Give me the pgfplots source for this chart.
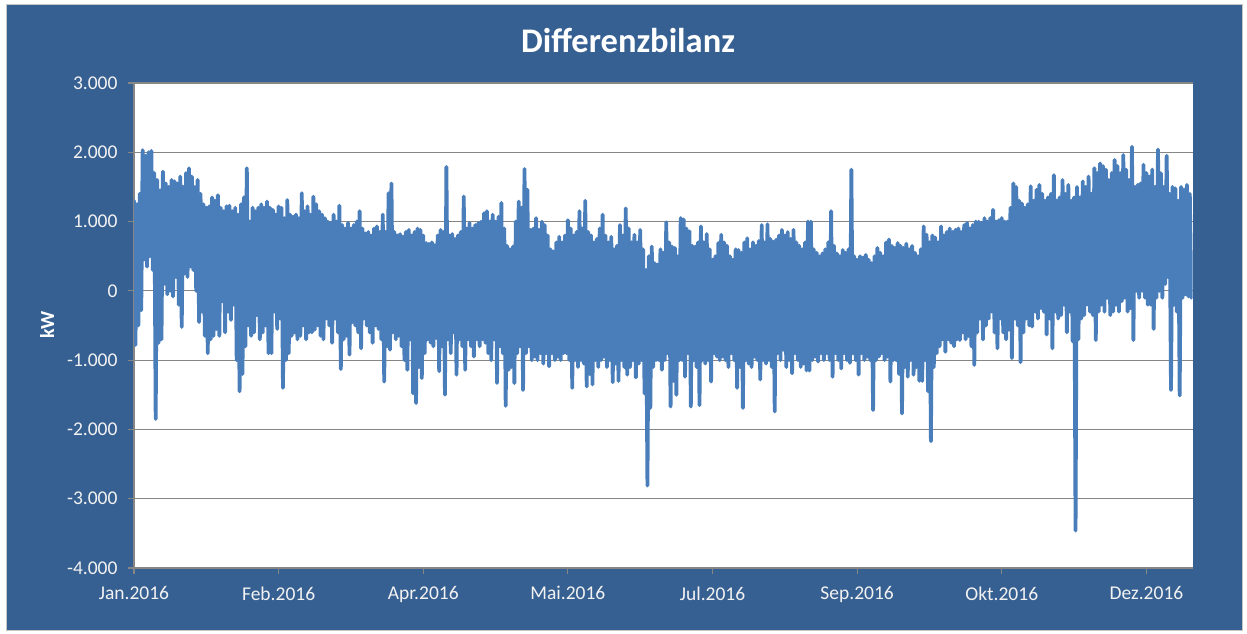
\documentclass[border=0pt]{standalone}
\usepackage{fontspec}
\setmainfont{Carlito}
\usepackage{pgfplots}
\pgfplotsset{compat=1.18}
\definecolor{bgblue}{RGB}{55,96,146}
\definecolor{lineblue}{RGB}{74,126,187}
\definecolor{gridgray}{RGB}{134,134,134}
\definecolor{labelc}{RGB}{242,242,242}
\begin{document}
\begin{tikzpicture}
\fill[white] (0,0) rectangle (1247bp,634bp);
\filldraw[fill=bgblue, draw=gray!45, line width=1bp] (6.5bp,3bp) rectangle (1242.5bp,629.5bp);
\node[text=white, font=\fontsize{34.5bp}{40bp}\selectfont\bfseries] at (628bp,593bp) {Differenzbilanz};
\node[text=white, rotate=90, font=\fontsize{20bp}{24bp}\selectfont\bfseries] at (47bp,309bp) {kW};
\begin{axis}[
  at={(134bp,66bp)}, anchor=south west, scale only axis,
  width=1058.7bp, height=485bp,
  xmin=0, xmax=366, ymin=-4000, ymax=3000,
  axis background/.style={fill=white},
  axis x line*=bottom, axis y line*=left,
  axis line style={gridgray, line width=1.2bp, -},
  xtick={0,50,...,350},
  xticklabels={Jan.2016,Feb.2016,Apr.2016,Mai.2016,Jul.2016,Sep.2016,Okt.2016,Dez.2016},
  ytick={-4000,-3000,...,3000},
  ymajorgrids, major grid style={gridgray, line width=1.2bp},
  tick align=outside, major tick length=6bp,
  tick style={gridgray, line width=1.2bp},
  scaled y ticks=false,
  /pgf/number format/1000 sep={.},
  /pgf/number format/assume math mode=true,
  ticklabel style={font=\fontsize{19.5bp}{22bp}\selectfont, text=labelc},
  yticklabel style={xshift=-7bp},
  xticklabel style={yshift=-9bp},
]
\addplot[lineblue, line width=3.8bp, line join=round, line cap=round, mark=none]
  table[row sep=\\, header=false, x expr=\coordindex/2, y index=0] {
1300\\-780\\1250\\-500\\1400\\-280\\2030\\450\\1950\\350\\2000\\500\\2020\\300\\1700\\-1850\\1600\\-750\\1450\\-700\\
1720\\100\\1550\\-50\\1500\\0\\1600\\-80\\1580\\200\\1550\\-200\\1650\\-520\\1500\\250\\1700\\200\\1770\\350\\
1650\\300\\1500\\0\\1600\\-450\\1400\\-300\\1250\\-650\\1200\\-900\\1220\\-700\\1350\\-650\\1300\\-550\\1380\\-650\\
1200\\-150\\1150\\-600\\1220\\-300\\1230\\-420\\1150\\-200\\1200\\-1000\\1100\\-1450\\1250\\-1200\\1350\\-800\\1770\\-500\\
1000\\-650\\1200\\-600\\1150\\-350\\1200\\-700\\1250\\-600\\1200\\-500\\1290\\-900\\1200\\-900\\1170\\-300\\1100\\-550\\
1220\\-400\\1200\\-1400\\1050\\-1000\\1310\\-900\\1100\\-650\\1070\\-600\\1100\\-700\\1050\\-650\\1410\\-500\\1150\\-700\\
1220\\-600\\1100\\-600\\1360\\-560\\1250\\-500\\1150\\-650\\1100\\-700\\1050\\-400\\1000\\-500\\980\\-750\\1100\\-400\\
1000\\-600\\1230\\-1130\\950\\-700\\900\\-650\\980\\-920\\900\\-450\\950\\-500\\1000\\-600\\1150\\-830\\900\\-400\\
830\\-500\\850\\-600\\800\\-750\\900\\-500\\930\\-550\\850\\-700\\1100\\-1310\\850\\-800\\1410\\-850\\1550\\-600\\
850\\-700\\800\\-650\\820\\-800\\780\\-1000\\850\\-1140\\880\\-700\\800\\-1480\\850\\-1620\\900\\-1100\\880\\-1260\\
800\\-900\\690\\-700\\680\\-750\\700\\-800\\660\\-680\\800\\-1160\\880\\-800\\850\\-1500\\1790\\-700\\800\\-900\\
820\\-600\\750\\-1210\\800\\-700\\850\\-800\\1360\\-1140\\900\\-700\\980\\-800\\900\\-950\\950\\-700\\980\\-800\\
1000\\-700\\1120\\-750\\1150\\-900\\1000\\-1000\\1100\\-700\\1000\\-1330\\1070\\-800\\1270\\-900\\900\\-1660\\650\\-1140\\
600\\-1100\\640\\-1330\\1000\\-900\\1290\\-800\\1200\\-1430\\1760\\-900\\1460\\-800\\880\\-1000\\900\\-950\\1050\\-1000\\
880\\-900\\1000\\-1050\\950\\-900\\800\\-1090\\600\\-900\\570\\-1000\\700\\-950\\780\\-1000\\700\\-900\\800\\-900\\
1020\\-1000\\900\\-1400\\800\\-1000\\850\\-1100\\1150\\-1000\\900\\-1050\\1300\\-1380\\850\\-1200\\800\\-1350\\700\\-1000\\
750\\-1100\\900\\-1000\\1100\\-950\\800\\-1100\\700\\-1000\\780\\-1320\\600\\-1050\\650\\-1300\\950\\-1000\\800\\-1100\\
1190\\-1210\\900\\-1100\\700\\-1000\\810\\-1250\\700\\-1050\\880\\-1000\\600\\-1480\\300\\-2810\\500\\-1690\\640\\-1100\\
400\\-1000\\380\\-1000\\600\\-1140\\550\\-1000\\990\\-900\\700\\-1670\\640\\-1300\\620\\-1500\\500\\-1000\\1050\\-1000\\
1030\\-1240\\900\\-900\\860\\-1670\\650\\-1000\\640\\-1100\\700\\-1650\\930\\-1000\\700\\-1050\\820\\-1000\\600\\-1310\\
450\\-900\\500\\-950\\690\\-1000\\810\\-950\\700\\-1000\\650\\-1100\\500\\-900\\450\\-1000\\600\\-1400\\590\\-1100\\
550\\-1690\\700\\-1000\\760\\-1050\\600\\-1100\\700\\-950\\650\\-1000\\720\\-1280\\950\\-1000\\700\\-1050\\960\\-1000\\
750\\-1100\\710\\-1740\\740\\-900\\800\\-1000\\880\\-850\\800\\-1100\\850\\-1000\\750\\-1190\\880\\-900\\700\\-1000\\
650\\-1100\\600\\-1050\\700\\-1150\\1000\\-1150\\1000\\-1000\\600\\-950\\550\\-1020\\500\\-900\\540\\-1000\\600\\-900\\
700\\-1000\\1150\\-1240\\650\\-900\\540\\-1000\\500\\-1120\\590\\-900\\550\\-1000\\600\\-1040\\1750\\-900\\500\\-1000\\
450\\-1210\\500\\-900\\480\\-1000\\520\\-950\\450\\-1000\\400\\-1720\\500\\-1000\\620\\-950\\550\\-900\\500\\-1000\\
700\\-950\\740\\-1310\\650\\-1000\\620\\-1000\\690\\-1200\\650\\-1770\\620\\-1100\\680\\-1240\\600\\-1000\\650\\-1210\\
550\\-1100\\500\\-1300\\600\\-1300\\930\\-1000\\810\\-1450\\700\\-2170\\800\\-1100\\770\\-900\\700\\-800\\930\\-700\\
800\\-880\\850\\-700\\900\\-750\\850\\-800\\880\\-700\\900\\-710\\850\\-600\\950\\-700\\980\\-650\\900\\-800\\
950\\-1070\\1000\\-600\\1000\\-400\\980\\-700\\1050\\-500\\1000\\-400\\1050\\-300\\1170\\-600\\1000\\-830\\1020\\-400\\
1050\\-600\\1000\\-700\\1000\\-560\\1200\\-970\\1550\\-400\\1500\\-500\\1300\\-1030\\1260\\-600\\1200\\-400\\1250\\-500\\
1510\\-515\\1300\\-300\\1460\\-400\\1530\\-250\\1400\\-300\\1300\\-630\\1350\\-400\\1400\\-830\\1670\\-300\\1300\\-400\\
1350\\-350\\1600\\-200\\1400\\-600\\1530\\-300\\1300\\-730\\1350\\-3460\\1500\\-700\\1350\\-400\\1580\\-350\\1500\\-200\\
1650\\-300\\1400\\-350\\1770\\-710\\1700\\-300\\1840\\-200\\1800\\-300\\1750\\-100\\1600\\-350\\1700\\-300\\1890\\-200\\
1800\\-300\\1700\\-150\\1960\\-100\\1750\\-300\\1600\\-250\\2080\\-710\\1500\\0\\1530\\-100\\1550\\0\\1820\\-100\\
1700\\-200\\1650\\-200\\1750\\-550\\1500\\-100\\2040\\0\\1700\\-100\\1500\\100\\1950\\200\\1400\\-1430\\1500\\-200\\
1480\\-300\\1300\\-1510\\1500\\-100\\1460\\-50\\1530\\-80\\1400\\-100\\
};
\end{axis}
\end{tikzpicture}
\end{document}
